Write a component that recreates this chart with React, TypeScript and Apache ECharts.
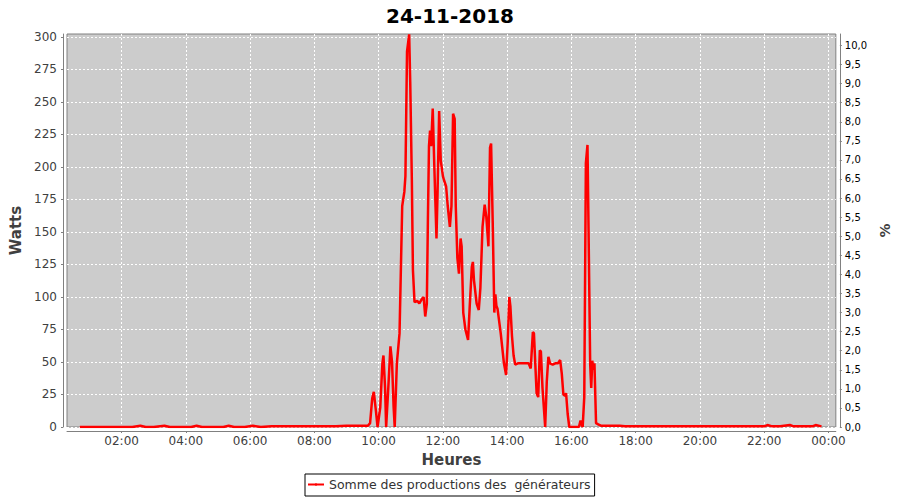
import React, { useEffect, useRef } from "react";
import * as echarts from "echarts";

const chartTitle = "24-11-2018";
const seriesName = "Somme des productions des  générateurs";

// sample times (HH:MM) and produced power (W)
const times: string[] = [
  "00:42", "01:00", "01:20", "01:40", "02:00", "02:20", "02:35", "02:45", "03:00", "03:20",
  "03:30", "03:50", "04:10", "04:20", "04:30", "04:50", "05:10", "05:20", "05:30", "05:50",
  "06:05", "06:20", "06:40", "07:00", "07:20", "07:40", "08:00", "08:20", "08:40", "09:00",
  "09:15", "09:30", "09:40", "09:44", "09:48", "09:51", "09:55", "09:58", "10:03", "10:07",
  "10:09", "10:12", "10:14", "10:18", "10:22", "10:25", "10:28", "10:30", "10:34", "10:39",
  "10:44", "10:48", "10:50", "10:53", "10:57", "10:59", "11:02", "11:04", "11:07", "11:12",
  "11:16", "11:20", "11:24", "11:27", "11:30", "11:32", "11:34", "11:36", "11:38", "11:41",
  "11:44", "11:48", "11:50", "11:53", "11:56", "12:00", "12:02", "12:06", "12:09", "12:13",
  "12:16", "12:19", "12:22", "12:24", "12:27", "12:30", "12:33", "12:35", "12:38", "12:42",
  "12:47", "12:50", "12:54", "12:56", "12:58", "13:03", "13:07", "13:10", "13:14", "13:18",
  "13:21", "13:25", "13:28", "13:30", "13:33", "13:36", "13:38", "13:40", "13:42", "13:48",
  "13:54", "13:58", "14:01", "14:04", "14:06", "14:09", "14:12", "14:15", "14:20", "14:30",
  "14:40", "14:44", "14:48", "14:50", "14:55", "14:58", "15:01", "15:03", "15:06", "15:11",
  "15:14", "15:17", "15:20", "15:25", "15:30", "15:35", "15:39", "15:42", "15:45", "15:48",
  "15:50", "15:53", "15:56", "16:00", "16:05", "16:10", "16:14", "16:17", "16:19", "16:21",
  "16:24", "16:27", "16:30", "16:32", "16:35", "16:37", "16:39", "16:41", "16:43", "16:46",
  "16:50", "16:55", "17:00", "17:10", "17:20", "17:30", "17:40", "17:50", "18:00", "18:30",
  "19:00", "19:30", "20:00", "20:30", "21:00", "21:30", "22:00", "22:06", "22:15", "22:30",
  "22:48", "22:55", "23:10", "23:30", "23:36", "23:47",
];

const watts: number[] = [
  0, 0, 0, 0, 0, 0, 1, 0, 0, 1,
  0, 0, 0, 1, 0, 0, 0, 1, 0, 0,
  1, 0, 0.5, 0.5, 0.5, 0.5, 0.5, 0.5, 0.5, 1,
  1, 1, 1, 3, 22, 27, 12, 0, 15, 49,
  55, 30, 0, 30, 62, 50, 15, 0, 49, 72,
  170, 181, 193, 289, 302, 265, 190, 121, 96, 97,
  95, 98, 100, 85, 95, 160, 216, 228, 216, 245,
  200, 145, 180, 243, 205, 193, 190, 185, 170, 154,
  170, 241, 237, 170, 130, 118, 145, 139, 88, 75,
  67, 92, 123, 127, 113, 95, 90, 107, 154, 171,
  162, 139, 215, 218, 158, 88, 102, 93, 91, 72,
  49, 40, 65, 100, 93, 70, 55, 48, 49, 49,
  49, 45, 73, 72, 26, 23, 59, 58, 30, 0,
  35, 54, 49, 48, 49, 49, 51.5, 41, 25, 24,
  26, 10, 0, 0, 0, 0, 0, 5, 2, 0,
  23, 203, 217, 152, 49, 30, 51, 44, 49, 3,
  2, 1, 1, 1, 1, 1, 0.5, 0.5, 0.5, 0.5,
  0.5, 0.5, 0.5, 0.5, 0.5, 0.5, 0.5, 1.5, 0.5, 0.5,
  1.5, 0.5, 0.5, 0.5, 1.5, 0.5,
];

const hourTicks: number[] = [2, 4, 6, 8, 10, 12, 14, 16, 18, 20, 22, 24];
const wattTicks: number[] = [0, 25, 50, 75, 100, 125, 150, 175, 200, 225, 250, 275, 300];
const pctTicks: number[] = [
  0, 0.5, 1, 1.5, 2, 2.5, 3, 3.5, 4, 4.5, 5, 5.5, 6, 6.5, 7, 7.5, 8, 8.5, 9, 9.5, 10,
];

const toHours = (t: string) => {
  const [h, m] = t.split(":").map(Number);
  return h + m / 60;
};

const fmtHour = (v: number) => {
  const h = Math.round(v) % 24;
  return (h < 10 ? "0" : "") + h + ":00";
};

const FONT = "DejaVu Sans";
const AXIS_GRAY = "#808080";
const LABEL_COLOR = "#404040";

export default function App() {
  const ref = useRef<HTMLDivElement>(null);

  useEffect(() => {
    if (!ref.current) return;
    const chart = echarts.init(ref.current, undefined, { renderer: "svg" });
    const data = times.map((t, i) => [toHours(t), watts[i]]);

    chart.setOption({
      animation: false,
      backgroundColor: "#ffffff",
      textStyle: { fontFamily: FONT },
      title: {
        text: chartTitle,
        left: "center",
        top: 1,
        textStyle: { fontFamily: FONT, fontSize: 20, fontWeight: "bold", color: "#000000" },
      },
      grid: {
        left: 67,
        right: 61,
        top: 34,
        bottom: 73,
        show: true,
        backgroundColor: "#cccccc",
        borderColor: AXIS_GRAY,
        borderWidth: 1,
      },
      legend: {
        left: 305,
        top: 474,
        padding: [4, 4, 5, 2],
        itemWidth: 16,
        itemHeight: 3,
        itemGap: 0,
        borderColor: "#000000",
        borderWidth: 1,
        borderRadius: 0,
        textStyle: { fontFamily: FONT, fontSize: 12.5, color: "#333333" },
        data: [seriesName],
      },
      xAxis: {
        type: "value",
        min: 0.3,
        max: 24.23,
        offset: 4,
        name: "Heures",
        nameLocation: "middle",
        nameGap: 21,
        nameTextStyle: { fontFamily: FONT, fontSize: 15, fontWeight: "bold", color: LABEL_COLOR },
        axisLine: { show: true, onZero: false, lineStyle: { color: AXIS_GRAY, width: 1 } },
        axisTick: { show: true, length: 2, customValues: hourTicks, lineStyle: { color: AXIS_GRAY } },
        axisLabel: {
          customValues: hourTicks,
          margin: 4,
          fontFamily: FONT,
          fontSize: 12,
          color: LABEL_COLOR,
          formatter: (v: number) => fmtHour(v),
        },
        splitLine: {
          show: true,
          lineStyle: { color: "#ffffff", type: [2, 2], width: 1 },
        },
      },
      yAxis: [
        {
          type: "value",
          min: 0,
          max: 302.3,
          offset: 4,
          name: "Watts",
          nameLocation: "middle",
          nameGap: 37,
          nameTextStyle: { fontFamily: FONT, fontSize: 15, fontWeight: "bold", color: LABEL_COLOR },
          axisLine: { show: true, lineStyle: { color: AXIS_GRAY, width: 1 } },
          axisTick: { show: true, length: 2, customValues: wattTicks, lineStyle: { color: AXIS_GRAY } },
          axisLabel: {
            customValues: wattTicks,
            margin: 6,
            fontFamily: FONT,
            fontSize: 12,
            color: LABEL_COLOR,
          },
          splitLine: {
            show: true,
            lineStyle: { color: "#ffffff", type: [2, 2], width: 1 },
          },
        },
        {
          type: "value",
          position: "right",
          min: 0,
          max: 10.3,
          offset: 4,
          name: "%",
          nameLocation: "middle",
          nameGap: 30,
          nameTextStyle: { fontFamily: FONT, fontSize: 14, fontWeight: "bold", color: LABEL_COLOR },
          axisLine: { show: true, lineStyle: { color: AXIS_GRAY, width: 1 } },
          axisTick: { show: true, length: 2, customValues: pctTicks, lineStyle: { color: AXIS_GRAY } },
          axisLabel: {
            customValues: pctTicks,
            margin: 5,
            fontFamily: FONT,
            fontSize: 10,
            color: "#000000",
            formatter: (v: number) => v.toFixed(1).replace(".", ","),
          },
          splitLine: { show: false },
        },
      ],
      series: [
        {
          name: seriesName,
          type: "line",
          yAxisIndex: 0,
          data,
          showSymbol: false,
          symbol: "circle",
          symbolSize: 2,
          color: "#ff0000",
          lineStyle: { color: "#ff0000", width: 2.5 },
        },
      ],
    });

    return () => chart.dispose();
  }, []);

  return (
    <div
      ref={ref}
      style={{ position: "fixed", left: 0, top: 0, width: 900, height: 500 }}
    />
  );
}
